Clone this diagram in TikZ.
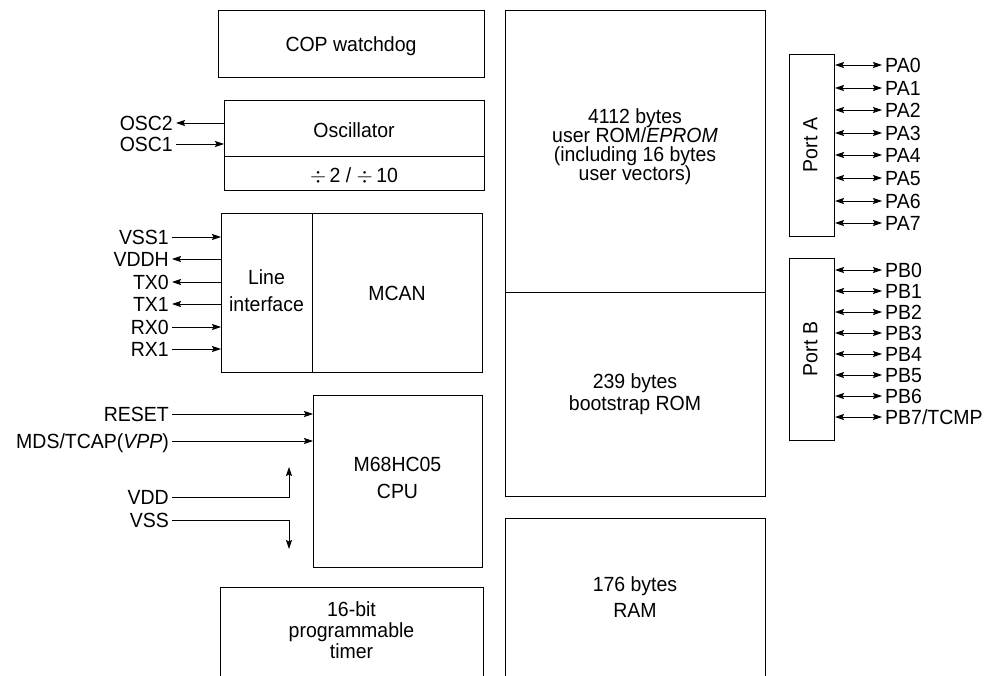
\documentclass[tikz,border=0pt]{standalone}
\usepackage{fontspec}
\setmainfont{Liberation Sans}[FakeStretch=0.95]
\usetikzlibrary{arrows.meta}
\newcommand\topst{\rule{0pt}{16pt}}
\newcommand\botst{\rule[-5pt]{0pt}{5pt}}
\AtBeginDocument{\lineskiplimit=-100pt\relax}
\begin{document}
\begin{tikzpicture}[x=1pt,y=-1pt,
  box/.style={draw, line width=1pt, inner sep=0pt},
  lbl/.style={inner xsep=3pt, inner ysep=0pt, text height=14.7pt, text depth=0pt,
    font={\fontsize{20.5}{20}\selectfont}},
  one/.style={inner sep=0pt, anchor=base, font={\fontsize{20.5}{20}\selectfont}},
  multi/.style={align=center, inner sep=0pt,
    font={\fontsize{20.5}{#1}\selectfont}},
  sig/.style={line width=0.8pt},
  tin/.style={sig, -{Stealth[length=9pt,width=6pt,inset=1.5pt]}},
  tboth/.style={sig, {Stealth[length=9pt,width=6pt,inset=1.5pt]}-{Stealth[length=9pt,width=6pt,inset=1.5pt]}}
]
\useasboundingbox (0,0) rectangle (987,676);

% left column blocks
\node[box, minimum width=266pt, minimum height=67pt, anchor=north west] (cop) at (218,10) {};
\node[one] (copt) at (351,52) {COP watchdog};
\node[box, minimum width=260pt, minimum height=56pt, anchor=north west] (osc) at (224,100) {};
\node[one] (osct) at (354,138) {Oscillator};
\node[box, minimum width=260pt, minimum height=34pt, anchor=north west] (div) at (224,156) {};
\node[one] (divt) at (354,183) {$\div$\,2 / $\div$\,10};
\node[box, minimum width=91pt, minimum height=159pt, anchor=north west] (li) at (221,213) {};
\node[multi=27] (lit) at (266.5,292) {\topst Line\\interface\botst};
\node[box, minimum width=170pt, minimum height=159pt, anchor=north west] (mcan) at (312,213) {};
\node[one] (mcant) at (397,300) {MCAN};
\node[box, minimum width=169pt, minimum height=172pt, anchor=north west] (cpu) at (313,395) {};
\node[multi=27] (cput) at (397.5,479) {\topst M68HC05\\CPU\botst};
\draw[line width=1pt] (220,677) |- (483,587) -- (483,677);
\node[multi=21] (timer) at (351.5,631.5) {\topst 16-bit\\programmable\\timer\botst};

% memory column
\node[box, minimum width=260pt, minimum height=282pt, anchor=north west] (rom) at (505,10) {};
\node[multi=19] (romt) at (635,147) {\topst 4112 bytes\\user ROM/\textit{EPROM}\\(including 16 bytes\\user vectors)\botst};
\node[box, minimum width=260pt, minimum height=204pt, anchor=north west] (boot) at (505,292) {};
\node[multi=22] (boott) at (635,393.5) {\topst 239 bytes\\bootstrap ROM\botst};
\draw[line width=1pt] (505,677) |- (765,518) -- (765,677);
\node[multi=26] (ram) at (635,598.5) {\topst 176 bytes\\RAM\botst};

% ports
\node[box, minimum width=45pt, minimum height=182pt, anchor=north west] (pA) at (789,54) {};
\node[lbl, rotate=90] (pAt) at (810,145) {Port A};
\node[box, minimum width=45pt, minimum height=182pt, anchor=north west] (pB) at (789,258) {};
\node[lbl, rotate=90] (pBt) at (810,349) {Port B};

\foreach \i/\y in {0/65,1/88,2/110,3/133,4/155,5/178,6/201,7/223}{
  \node[lbl, anchor=west] (pa\i) at (882,\y) {PA\i};
  \draw[tboth] (pa\i.west -| pA.east) -- (pa\i.west);
}
\foreach \i/\t/\y in {0/PB0/270,1/PB1/291,2/PB2/312,3/PB3/333,4/PB4/354,5/PB5/375,6/PB6/396,7/PB7\slash TCMP/417}{
  \node[lbl, anchor=west] (pb\i) at (882,\y) {\t};
  \draw[tboth] (pb\i.west -| pB.east) -- (pb\i.west);
}

% oscillator pins
\node[lbl, anchor=east] (osc2) at (176,123) {OSC2};
\node[lbl, anchor=east] (osc1) at (176,144) {OSC1};
\draw[tin] (osc2.east -| osc.west) -- (osc2.east);
\draw[tin] (osc1.east) -- (osc1.east -| osc.west);

% line interface pins
\node[lbl, anchor=east] (vss1) at (172,237) {VSS1};
\node[lbl, anchor=east] (vddh) at (172,259) {VDDH};
\node[lbl, anchor=east] (tx0) at (172,282) {TX0};
\node[lbl, anchor=east] (tx1) at (172,304) {TX1};
\node[lbl, anchor=east] (rx0) at (172,327) {RX0};
\node[lbl, anchor=east] (rx1) at (172,349) {RX1};
\draw[tin] (vss1.east) -- (vss1.east -| li.west);
\draw[tin] (vddh.east -| li.west) -- (vddh.east);
\draw[tin] (tx0.east -| li.west) -- (tx0.east);
\draw[tin] (tx1.east -| li.west) -- (tx1.east);
\draw[tin] (rx0.east) -- (rx0.east -| li.west);
\draw[tin] (rx1.east) -- (rx1.east -| li.west);

% CPU pins
\node[lbl, anchor=east] (reset) at (172,414) {RESET};
\node[lbl, anchor=east] (mds) at (172,441) {MDS/TCAP(\textit{VPP})};
\node[lbl, anchor=east] (vdd) at (172,497) {VDD};
\node[lbl, anchor=east] (vss) at (172,520) {VSS};
\draw[tin] (reset.east) -- (reset.east -| cpu.west);
\draw[tin] (mds.east) -- (mds.east -| cpu.west);
\coordinate (vddend) at (289,467);
\coordinate (vssend) at (289,549);
\draw[tin] (vdd.east) -| (vddend);
\draw[tin] (vss.east) -| (vssend);
\end{tikzpicture}
\end{document}
